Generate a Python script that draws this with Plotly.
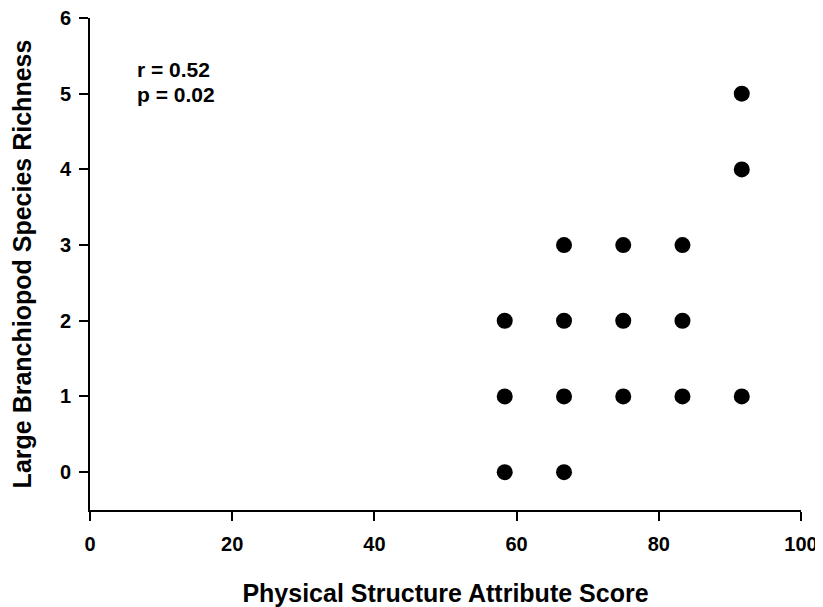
import plotly.graph_objects as go

# Data
score = [58.33, 58.33, 58.33,
         66.67, 66.67, 66.67, 66.67,
         75.0, 75.0, 75.0,
         83.33, 83.33, 83.33,
         91.67, 91.67, 91.67]
richness = [0, 1, 2,
            0, 1, 2, 3,
            1, 2, 3,
            1, 2, 3,
            1, 4, 5]
x_ticks = [0, 20, 40, 60, 80, 100]
y_ticks = [0, 1, 2, 3, 4, 5, 6]
stats_text = ["r = 0.52", "p = 0.02"]

FONT = "Liberation Sans, Arial, sans-serif"

fig = go.Figure()
fig.add_trace(go.Scatter(
    x=score, y=richness, mode="markers",
    marker=dict(color="black", size=16, line=dict(width=0)),
    showlegend=False, cliponaxis=False,
))

fig.add_annotation(x=6.3, y=5.32, xref="x", yref="y", text="<b>%s</b>" % stats_text[0],
                   showarrow=False, xanchor="left", yanchor="middle",
                   font=dict(family=FONT, size=21, color="black"))
fig.add_annotation(x=6.3, y=4.99, xref="x", yref="y", text="<b>%s</b>" % stats_text[1],
                   showarrow=False, xanchor="left", yanchor="middle",
                   font=dict(family=FONT, size=21, color="black"))

axis_common = dict(
    showgrid=False, zeroline=False, showline=True, linecolor="black", linewidth=2,
    ticks="outside", ticklen=9, tickwidth=2, tickcolor="black", automargin=False,
    ticklabeloverflow="allow",
    tickfont=dict(family=FONT, size=20, color="black", weight="bold"),
)

fig.update_xaxes(range=[0, 100], tickvals=x_ticks, ticktext=[str(v) for v in x_ticks],
                 ticklabelstandoff=6,
                 title=dict(text="<b>Physical Structure Attribute Score</b>",
                            font=dict(family=FONT, size=25, color="black"), standoff=32),
                 **axis_common)
fig.update_yaxes(range=[-0.5, 6], tickvals=y_ticks, ticktext=[str(v) for v in y_ticks],
                 ticklabelstandoff=4,
                 title=dict(text="<b>Large Branchiopod Species Richness</b>",
                            font=dict(family=FONT, size=25, color="black"), standoff=22),
                 **axis_common)

# page body has an 8px margin at top/left; size the figure to fill the rest
fig.update_layout(
    width=815, height=599,
    margin=dict(l=81.5, r=22, t=9.5, b=97),
    plot_bgcolor="white", paper_bgcolor="white",
    font=dict(family=FONT, color="black"),
)

fig.write_html("out.html")
